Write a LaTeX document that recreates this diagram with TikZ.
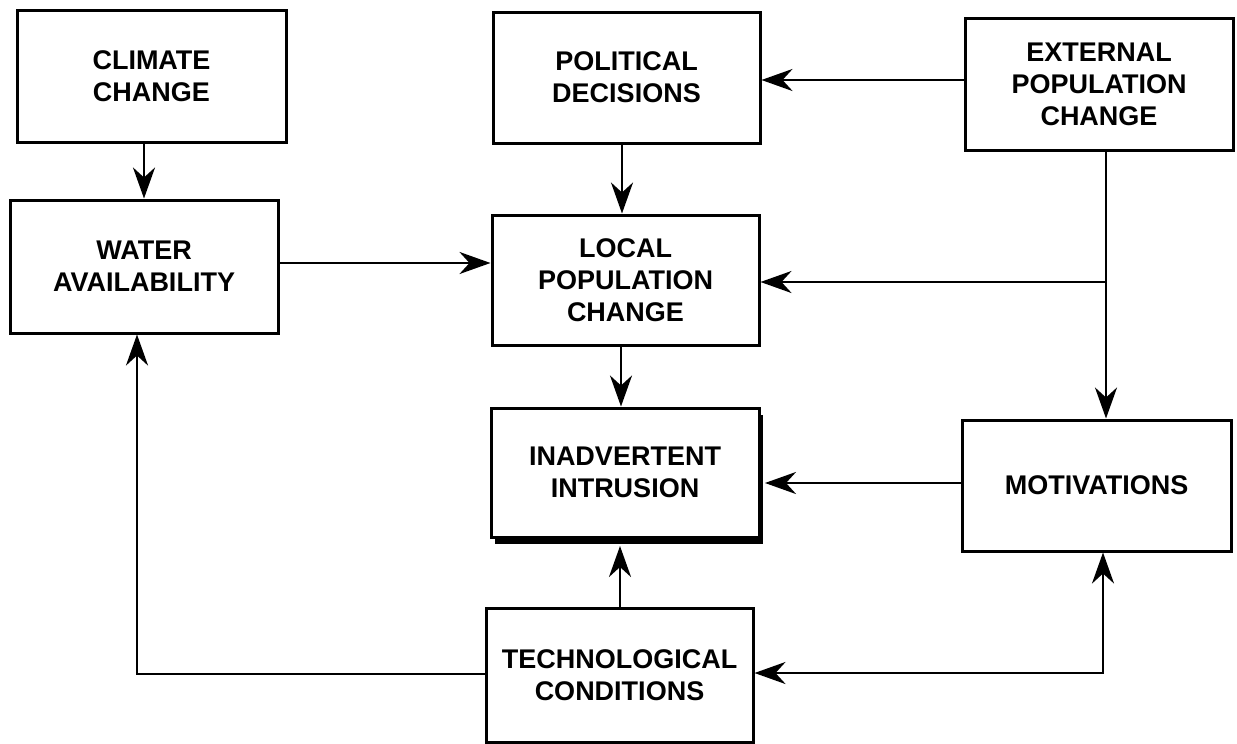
\documentclass[tikz,border=0pt]{standalone}
\usepackage{fontspec}
\setmainfont{Liberation Sans}
\usetikzlibrary{arrows.meta,shadows}
\begin{document}
\begin{tikzpicture}[x=1pt,y=-1pt,
  box/.style={draw, line width=3pt, fill=white, align=center, inner sep=0pt,
    font=\fontsize{27}{32}\selectfont\bfseries},
  ln/.style={line width=2.8pt},
  tip/.style={Stealth[length=31pt,width=22pt,inset=10pt]},
  arr/.style={ln, -{Stealth[length=31pt,width=22pt,inset=10pt]}},
  darr/.style={ln, {Stealth[length=31pt,width=22pt,inset=10pt]}-{Stealth[length=31pt,width=22pt,inset=10pt]}}]
\useasboundingbox (0,0) rectangle (1237,744);

\node[box, minimum width=269pt, minimum height=132pt] (climate) at (151.5,76) {CLIMATE\\CHANGE};
\node[box, minimum width=267pt, minimum height=131pt] (political) at (626.5,77.5) {POLITICAL\\DECISIONS};
\node[box, minimum width=268pt, minimum height=132pt] (external) at (1099,84) {EXTERNAL\\POPULATION\\CHANGE};
\node[box, minimum width=268pt, minimum height=133pt] (water) at (144,266.5) {WATER\\AVAILABILITY};
\node[box, minimum width=267pt, minimum height=130pt] (local) at (625.5,280) {LOCAL\\POPULATION\\CHANGE};
\node[box, minimum width=268pt, minimum height=129pt,
  drop shadow={shadow xshift=4pt, shadow yshift=-7pt, fill=black, opacity=1}] (inadv) at (625,472.5) {INADVERTENT\\INTRUSION};
\node[box, minimum width=269pt, minimum height=131pt] (motiv) at (1096.5,485.5) {MOTIVATIONS};
\node[box, minimum width=267pt, minimum height=134pt] (tech) at (619.5,675) {TECHNOLOGICAL\\CONDITIONS};

\coordinate (j) at (1106,282);
\coordinate (b) at (1103,673);
\coordinate (l) at (137,674);
\coordinate (inR) at (765,483);
\coordinate (inB) at (620,546);

% climate -> water
\draw[arr] (climate.south -| water) -- (water.north);
% political -> local
\draw[arr] (political.south -| 622,0) -- (local.north -| 622,0);
% external -> political
\draw[arr] (external.west |- 0,80) -- (political.east |- 0,80);
% water -> local
\draw[arr] (water.east |- 0,263) -- (local.west |- 0,263);
% external -> motivations, and branch to local
\draw[arr] (external.south -| j) -- (j) -- (motiv.north -| j);
\draw[arr] (j) -- (local.east |- j);
% local -> inadvertent
\draw[arr] (local.south -| 621,0) -- (inadv.north -| 621,0);
% motivations -> inadvertent
\draw[arr] (motiv.west |- inR) -- (inR);
% tech -> inadvertent
\draw[arr] (tech.north -| inB) -- (inB);
% tech -> water
\draw[arr] (tech.west |- l) -- (l) -- (water.south -| l);
% tech <-> motivations
\draw[darr] (tech.east |- b) -- (b) -- (motiv.south -| b);
\end{tikzpicture}
\end{document}
